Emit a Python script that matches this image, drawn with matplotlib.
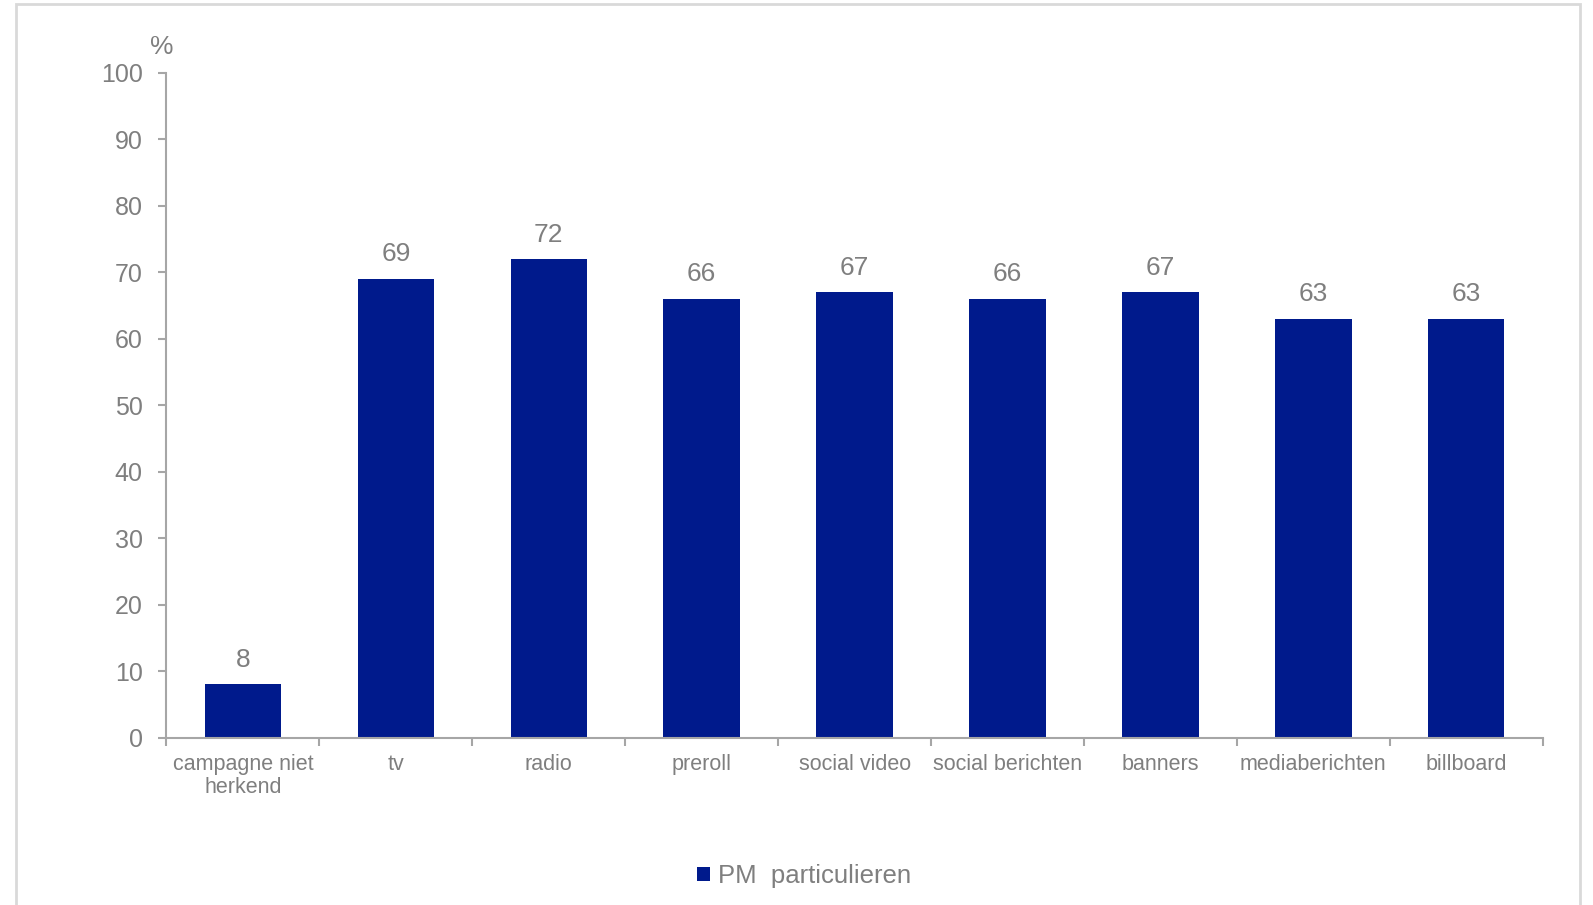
import matplotlib
matplotlib.use("Agg")
import matplotlib.pyplot as plt
from matplotlib.patches import Rectangle
import numpy as np

categories = ["campagne niet\nherkend", "tv", "radio", "preroll", "social video",
              "social berichten", "banners", "mediaberichten", "billboard"]
values = [8, 69, 72, 66, 67, 66, 67, 63, 63]
series_name = "PM  particulieren"
yticks = [0, 10, 20, 30, 40, 50, 60, 70, 80, 90, 100]

plt.rcParams['font.family'] = ['Liberation Sans', 'DejaVu Sans']
text_color = "#7F7F7F"
axis_color = "#A6A6A6"
bar_color = "#001A8C"

fig = plt.figure(figsize=(15.93, 9.05), dpi=100)
ax = fig.add_axes([0.1045, 0.1849, 0.8639, 0.7348])

x = np.arange(len(categories))
bars = ax.bar(x, values, width=0.5, color=bar_color, label=series_name, zorder=2)

for xi, v in zip(x, values):
    ax.annotate(str(v), (xi, v), xytext=(0, 12.5), textcoords="offset points",
                ha="center", va="baseline", fontsize=19, color=text_color)

ax.set_xlim(-0.5, len(categories) - 0.5)
ax.set_ylim(0, 100)
ax.set_yticks(yticks)
ax.set_yticklabels([str(t) for t in yticks])
ax.set_xticks(x)
ax.set_xticklabels(categories, linespacing=1.1)
ax.set_xticks(np.arange(len(categories) + 1) - 0.5, minor=True)

for s in ["top", "right"]:
    ax.spines[s].set_visible(False)
for s in ["left", "bottom"]:
    ax.spines[s].set_color(axis_color)
    ax.spines[s].set_linewidth(1.5)

ax.tick_params(axis="y", direction="out", length=6, width=1.5, color=axis_color,
               labelsize=18, labelcolor=text_color, pad=11)
ax.tick_params(axis="x", which="major", length=0, labelsize=15.5,
               labelcolor=text_color, pad=12)
ax.tick_params(axis="x", which="minor", direction="out", length=6, width=1.5,
               color=axis_color)

fig.text(162 / 1593, 1 - 47 / 905, "%", ha="center", va="center",
         fontsize=19, color=text_color)

leg = fig.legend(handles=[bars], labels=[series_name], loc="center",
                 bbox_to_anchor=(804 / 1593, 1 - 876 / 905), frameon=False,
                 fontsize=18.5, handlelength=0.5, handleheight=0.5,
                 handletextpad=0.3, labelcolor=text_color)

fig.patches.append(Rectangle((16 / 1593, -0.05), (1580 - 16) / 1593, 1.05 - 4 / 905,
                             transform=fig.transFigure, fill=False,
                             edgecolor="#D9D9D9", linewidth=2))

fig.savefig("out.png", dpi=100)
